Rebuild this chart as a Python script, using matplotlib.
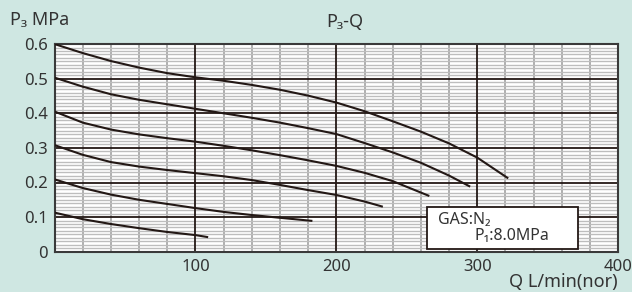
import matplotlib
matplotlib.use("Agg")
import matplotlib.pyplot as plt
import numpy as np

plt.rcParams["font.family"] = ["Noto Sans", "DejaVu Sans"]

# flow Q (L/min nor) and outlet pressure P3 (MPa)
q1 = [0, 20, 40, 60, 80, 100, 120, 140, 160, 180, 200, 220, 240, 260, 280, 300, 322]
p1 = [0.600, 0.574, 0.551, 0.532, 0.516, 0.504, 0.494, 0.482, 0.468, 0.451, 0.431, 0.406, 0.377, 0.347, 0.313, 0.272, 0.212]

q2 = [0, 20, 40, 60, 80, 100, 120, 140, 160, 180, 200, 220, 240, 260, 280, 295]
p2 = [0.503, 0.477, 0.455, 0.439, 0.426, 0.413, 0.400, 0.387, 0.373, 0.357, 0.340, 0.314, 0.287, 0.257, 0.220, 0.188]

q3 = [0, 20, 40, 60, 80, 100, 120, 140, 160, 180, 200, 220, 240, 266]
p3 = [0.405, 0.373, 0.353, 0.339, 0.328, 0.318, 0.306, 0.293, 0.279, 0.264, 0.248, 0.228, 0.204, 0.161]

q4 = [0, 20, 40, 60, 80, 100, 120, 140, 160, 180, 200, 220, 233]
p4 = [0.308, 0.280, 0.259, 0.246, 0.236, 0.227, 0.218, 0.207, 0.193, 0.178, 0.164, 0.145, 0.130]

q5 = [0, 20, 40, 60, 80, 100, 120, 140, 160, 183]
p5 = [0.209, 0.184, 0.165, 0.150, 0.138, 0.126, 0.115, 0.106, 0.098, 0.089]

q6 = [0, 20, 40, 60, 80, 100, 109]
p6 = [0.113, 0.094, 0.080, 0.068, 0.057, 0.048, 0.042]

curves = [(q1, p1), (q2, p2), (q3, p3), (q4, p4), (q5, p5), (q6, p6)]

xticks = [100, 200, 300, 400]
xlabels = ["100", "200", "300", "400"]
yticks = [0, 0.1, 0.2, 0.3, 0.4, 0.5, 0.6]
ylabels = ["0", "0.1", "0.2", "0.3", "0.4", "0.5", "0.6"]

bg = "#cfe7e2"
fig = plt.figure(figsize=(6.32, 2.92), dpi=100, facecolor=bg)
ax = fig.add_axes([0.0864, 0.138, 0.978 - 0.0864, 0.849 - 0.138])
ax.set_facecolor("white")
ax.set_xlim(0, 400)
ax.set_ylim(0, 0.6)

# grid
for x in np.arange(20, 400, 20):
    if x % 100 == 0:
        ax.axvline(x, color="#231815", lw=1.3, zorder=2)
    else:
        ax.axvline(x, color="#a8a8a8", lw=1.3, zorder=1)
for i in range(1, 60):
    y = i / 100
    if i % 10 == 0:
        ax.axhline(y, color="#231815", lw=1.3, zorder=2)
    else:
        ax.axhline(y, color="#bdbdbd", lw=1.0, zorder=1)

for q, p in curves:
    ax.plot(q, p, color="#231815", lw=1.5, zorder=4, solid_capstyle="butt")

for s in ax.spines.values():
    s.set_color("#3a3a3a")
    s.set_linewidth(1.5)

ax.set_xticks(xticks)
ax.set_xticklabels(xlabels, fontsize=12, color="#333333")
ax.set_yticks(yticks)
ax.set_yticklabels(ylabels, fontsize=12, color="#333333")
ax.tick_params(length=0, pad=5)

# legend box
ax.add_patch(plt.Rectangle((264.5, 0.007), 107.3, 0.123, facecolor="white",
                           edgecolor="#231815", lw=1.3, zorder=5))
ax.text(272, 0.092, "GAS:N₂", fontsize=11.5, color="#333333", va="center", zorder=6)
ax.text(298, 0.044, "P₁:8.0MPa", fontsize=11.5, color="#333333", va="center", zorder=6)

fig.text(10 / 632, 1 - 20 / 292, "P₃ MPa", fontsize=13, color="#333333", va="center")
fig.text(345 / 632, 1 - 22 / 292, "P₃-Q", fontsize=13, color="#333333", va="center", ha="center")
fig.text(618 / 632, 1 - 282 / 292, "Q L/min(nor)", fontsize=13, color="#333333", va="center", ha="right")

fig.savefig("out.png", dpi=100, facecolor=bg)
